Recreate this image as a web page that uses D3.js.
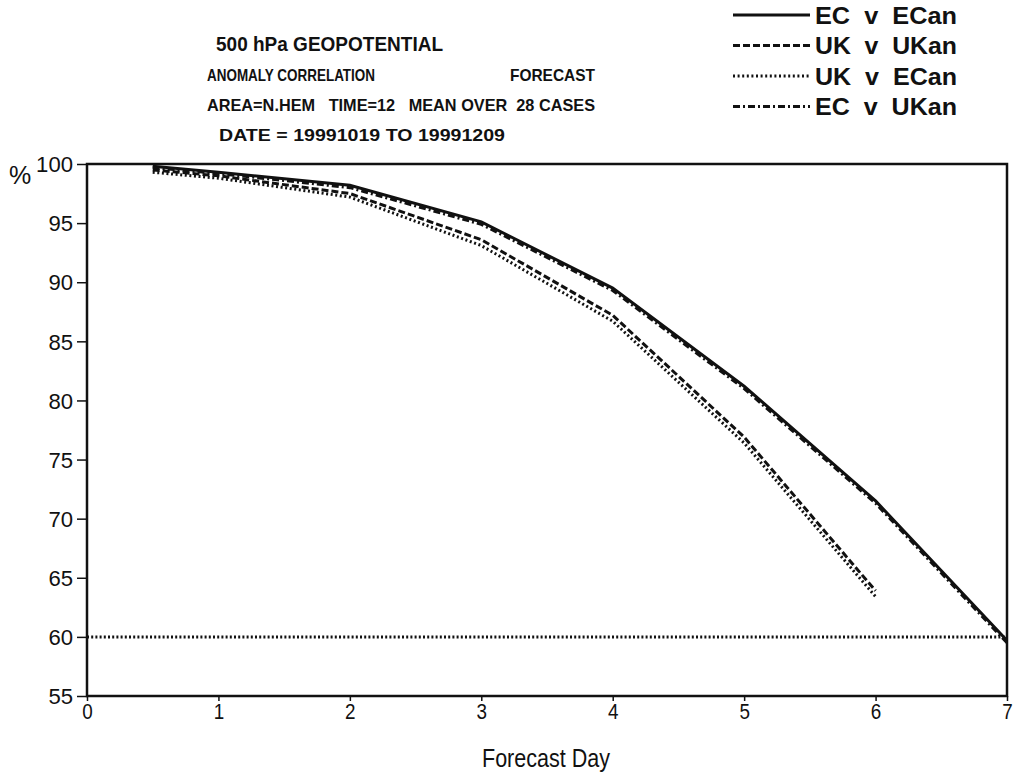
<!DOCTYPE html>
<html>
<head>
<meta charset="utf-8">
<script src="https://cdn.jsdelivr.net/npm/d3@7"></script>
<style>
  html, body { margin: 0; padding: 0; background: #fff; }
  svg { display: block; font-family: "Liberation Sans", Arial, Helvetica, sans-serif; }
  svg text { white-space: pre; }
</style>
</head>
<body>
<svg id="chart" width="1013" height="777"></svg>
<script>
// Forecast days at which scores are verified
const days = [0.5, 1, 2, 3, 4, 5, 6, 7];
const ukDays = [0.5, 1, 2, 3, 4, 5, 6];

// Anomaly correlation (%) for each forecast / verifying-analysis pair
const ecVsEcan = [99.8, 99.3, 98.2, 95.1, 89.5, 81.2, 71.5, 59.7];
const ukVsUkan = [99.5, 99.0, 97.5, 93.6, 87.2, 76.9, 63.9];
const ukVsEcan = [99.3, 98.8, 97.2, 93.1, 86.7, 76.4, 63.4];
const ecVsUkan = [99.7, 99.2, 98.0, 94.9, 89.3, 81.0, 71.3, 59.5];

const seriesNames = ["EC  v  ECan", "UK  v  UKan", "UK  v  ECan", "EC  v  UKan"];
const seriesDash = [null, "7,3", "2,2.6", "7,3,2,3"];

const xTicks = [0, 1, 2, 3, 4, 5, 6, 7];
const yTicks = [55, 60, 65, 70, 75, 80, 85, 90, 95, 100];
const threshold = 60;

const svg = d3.select("#chart");

const x = d3.scaleLinear().domain([0, 7]).range([87, 1007]);
const y = d3.scaleLinear().domain([55, 100]).range([696, 164]);

// Condensed text helper: squeeze a text element into a fixed width
function fit(sel, width) {
  return sel.attr("textLength", width).attr("lengthAdjust", "spacingAndGlyphs");
}

// Titles
const titles = svg.append("g").attr("font-weight", "bold").attr("fill", "#111");
fit(titles.append("text").attr("x", 216).attr("y", 51)
  .attr("font-size", 21).text("500 hPa GEOPOTENTIAL"), 227);
fit(titles.append("text").attr("x", 207).attr("y", 81).attr("font-size", 16.5)
  .text("ANOMALY CORRELATION"), 168);
fit(titles.append("text").attr("x", 510).attr("y", 81).attr("font-size", 16.5)
  .text("FORECAST"), 85);
fit(titles.append("text").attr("x", 207).attr("y", 111).attr("font-size", 16.5)
  .text("AREA=N.HEM   TIME=12   MEAN OVER  28 CASES"), 388);
fit(titles.append("text").attr("x", 219).attr("y", 141).attr("font-size", 16.5)
  .text("DATE = 19991019 TO 19991209"), 286);

// Legend
const legend = svg.append("g");
seriesNames.forEach((name, i) => {
  const ly = 15 + i * 30.5;
  legend.append("line")
    .attr("x1", 733).attr("x2", 810).attr("y1", ly).attr("y2", ly)
    .attr("stroke", "#111").attr("stroke-width", 3)
    .attr("stroke-dasharray", seriesDash[i]);
  fit(legend.append("text").attr("x", 815).attr("y", ly + 8.5)
    .attr("font-size", 24).attr("font-weight", "bold").attr("fill", "#111")
    .text(name), 142);
});

// Axes
const yAxis = d3.axisLeft(y).tickValues(yTicks).tickSize(10).tickPadding(4).tickFormat(d3.format("d"));
const xAxis = d3.axisBottom(x).tickValues(xTicks).tickSize(5).tickPadding(2).tickFormat(d3.format("d"));

const gy = svg.append("g").attr("transform", "translate(87,0)").call(yAxis);
const gx = svg.append("g").attr("transform", "translate(0,696)").call(xAxis);
[gy, gx].forEach(g => {
  g.select(".domain").remove();
  g.selectAll(".tick line").attr("stroke", "#111").attr("stroke-width", 1.5);
  g.selectAll(".tick text").attr("fill", "#111").attr("font-size", 22);
});
gy.selectAll(".tick text").attr("dy", "0.35em")
  .each(function (d) { fit(d3.select(this), String(d).length * 12.3); });
gx.selectAll(".tick text").each(function () { fit(d3.select(this), 10.5); });

// Frame
svg.append("rect")
  .attr("x", x(0)).attr("y", y(100))
  .attr("width", x(7) - x(0)).attr("height", y(55) - y(100))
  .attr("fill", "none").attr("stroke", "#111").attr("stroke-width", 2.5);

// Axis titles
svg.append("text").attr("x", 9).attr("y", 184).attr("font-size", 25).attr("fill", "#111").text("%");
fit(svg.append("text").attr("x", 482).attr("y", 767)
  .attr("font-size", 26).attr("fill", "#111").text("Forecast Day"), 128);

// 60% reference line
svg.append("line")
  .attr("x1", x(0)).attr("x2", x(7)).attr("y1", y(threshold)).attr("y2", y(threshold))
  .attr("stroke", "#111").attr("stroke-width", 3).attr("stroke-dasharray", "2,2.2");

// Score curves
const line = d3.line().x(d => x(d[0])).y(d => y(d[1]));
const curves = [
  { xs: days, vs: ecVsEcan, dash: seriesDash[0] },
  { xs: ukDays, vs: ukVsUkan, dash: seriesDash[1] },
  { xs: ukDays, vs: ukVsEcan, dash: seriesDash[2] },
  { xs: days, vs: ecVsUkan, dash: seriesDash[3] }
];
curves.forEach(c => {
  svg.append("path")
    .datum(c.xs.map((d, i) => [d, c.vs[i]]))
    .attr("d", line)
    .attr("fill", "none").attr("stroke", "#111").attr("stroke-width", 3)
    .attr("stroke-dasharray", c.dash);
});
</script>
</body>
</html>
